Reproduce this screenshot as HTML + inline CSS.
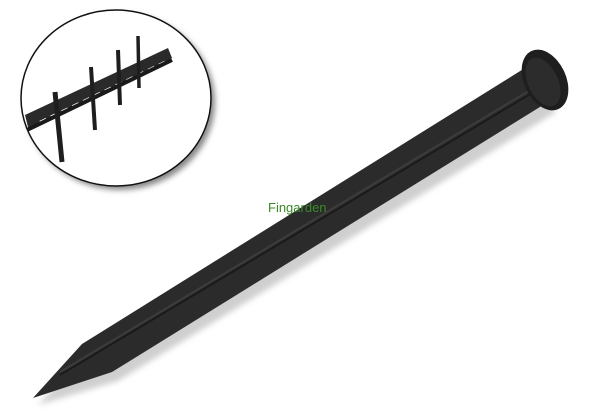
<!DOCTYPE html>
<html><head><style>
body{margin:0;width:600px;height:414px;background:#fff;overflow:hidden;position:relative;font-family:"Liberation Sans",sans-serif}
</style></head><body>
<svg width="600" height="414" style="position:absolute;left:0;top:0">
<defs>
<filter id="sh" x="-20%" y="-20%" width="140%" height="140%"><feGaussianBlur stdDeviation="3"/></filter>
</defs>
<ellipse cx="120" cy="102" rx="95" ry="88" fill="#888" filter="url(#sh)"/>
<ellipse cx="116" cy="98" rx="95" ry="88" fill="#fff" stroke="#111" stroke-width="1.5"/>
<!-- edging strip -->
<polygon points="25,115 168,48 172,58 29,131" fill="#2a2a2a"/>
<g stroke="#fff" fill="none" stroke-width="2.5">
<path d="M40 122 L165 62" stroke-dasharray="7 5"/>
</g>
<path d="M27 130 L172 60" stroke="#1a1a1a" stroke-width="4" fill="none"/>
<g stroke="#1e1e1e" fill="none">
<line x1="55" y1="92" x2="62" y2="162" stroke-width="5"/>
<line x1="91" y1="67" x2="95" y2="130" stroke-width="4"/>
<line x1="118" y1="50" x2="120" y2="105" stroke-width="4"/>
<line x1="138" y1="36" x2="139" y2="88" stroke-width="3.5"/>
</g>
<!-- shadow of spike -->
<polygon points="38,405 88,352 532,82 556,112 118,381" fill="#bbb" filter="url(#sh)" opacity="0.7"/>
<!-- spike -->
<polygon points="33,398 82,344 525,68 548,102 112,372" fill="#2b2b2b"/>
<line x1="60" y1="372" x2="537" y2="86" stroke="#3c3c3c" stroke-width="2"/>
<line x1="60" y1="375" x2="537" y2="90" stroke="#171717" stroke-width="1.5"/>
<ellipse cx="545" cy="80" rx="21" ry="32" transform="rotate(-25 545 80)" fill="#1e1e1e"/>
<ellipse cx="543" cy="82" rx="15" ry="26" transform="rotate(-25 543 82)" fill="#2c2c2c"/>
<text x="268" y="212" font-family="Liberation Sans, sans-serif" font-size="13" fill="#3a8a2a">Fingarden</text>
</svg>
</body></html>
